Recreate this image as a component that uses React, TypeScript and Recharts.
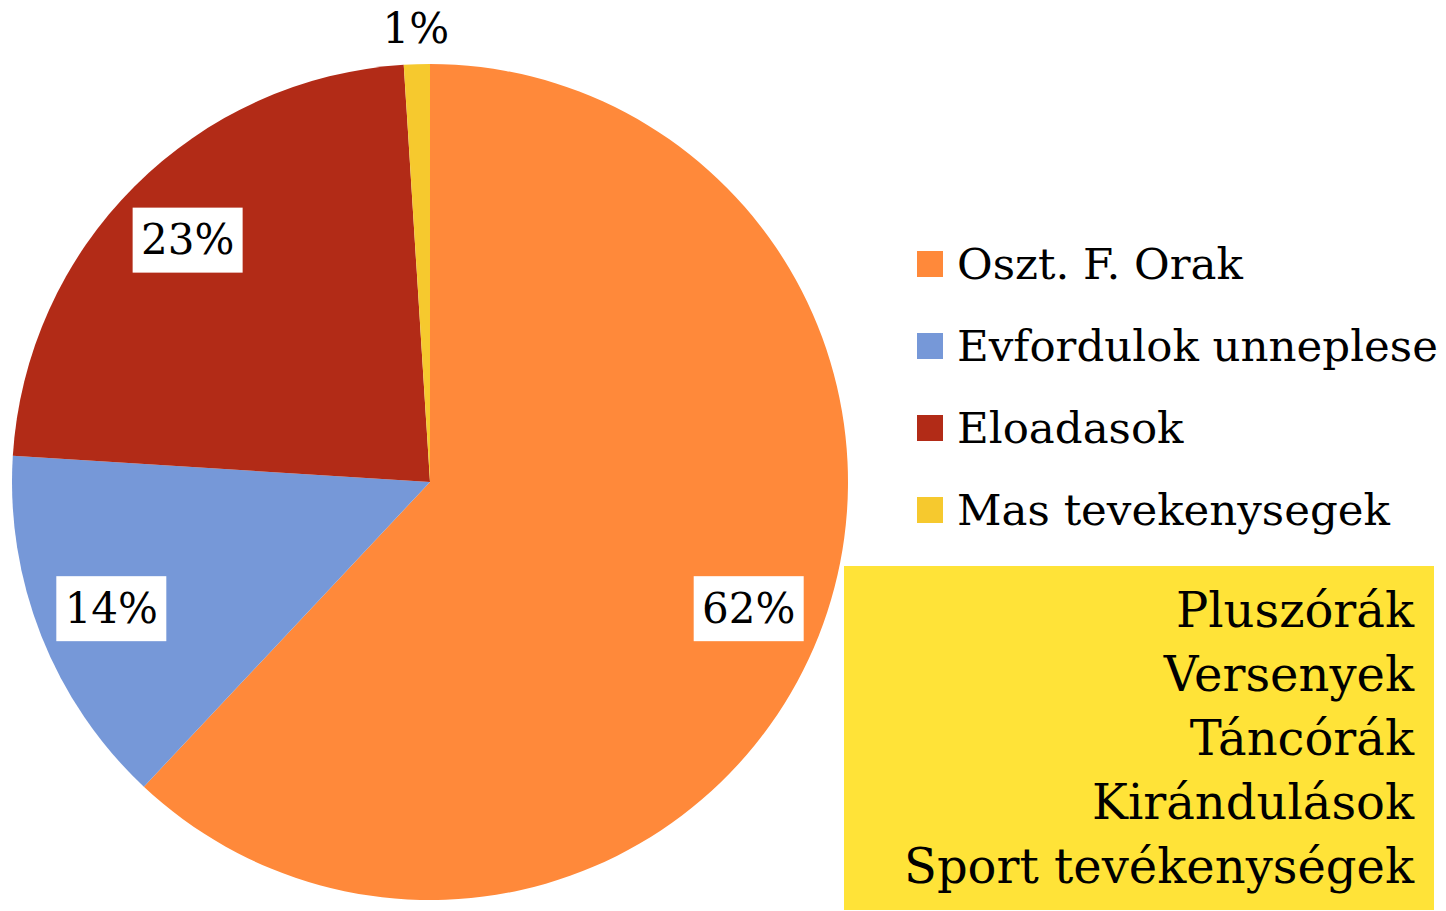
import { Pie, PieChart, Cell, Legend } from "recharts";

const categories = ["Oszt. F. Orak", "Evfordulok unneplese", "Eloadasok", "Mas tevekenysegek"];
const shares = [62, 14, 23, 1];
const colors = ["#FF893A", "#7698D8", "#B22B17", "#F6C92E"];
const boxLines = ["Pluszórák", "Versenyek", "Táncórák", "Kirándulások", "Sport tevékenységek"];

const data = categories.map((name, i) => ({ name, value: shares[i] }));

const FONT = "'DejaVu Serif', serif";
const RAD = Math.PI / 180;

function renderLabel(props: any) {
  const { cx, cy, midAngle, outerRadius, value } = props;
  const small = value < 5;
  const r = small ? outerRadius + 36 : outerRadius * 0.82;
  const x = cx + r * Math.cos(-midAngle * RAD);
  const y = cy + r * Math.sin(-midAngle * RAD);
  const text = `${value}%`;
  return (
    <g>
      {!small && <rect x={x - 55} y={y - 32} width={110} height={65} fill="#fff" />}
      <text
        x={x}
        y={y}
        textAnchor="middle"
        dominantBaseline="central"
        fontFamily={FONT}
        fontSize={42}
        fill="#000"
      >
        {text}
      </text>
    </g>
  );
}

function LegendContent() {
  return (
    <div style={{ fontFamily: FONT }}>
      {categories.map((name, i) => (
        <div key={name} style={{ display: "flex", alignItems: "center", height: 82 }}>
          <span style={{ width: 26, height: 26, background: colors[i], marginRight: 14, flex: "none" }} />
          <span style={{ fontSize: 43.5, whiteSpace: "nowrap", color: "#000" }}>{name}</span>
        </div>
      ))}
    </div>
  );
}

export default function App() {
  return (
    <div style={{ position: "absolute", left: 0, top: 0, width: 1446, height: 911, background: "#fff" }}>
      <PieChart width={1446} height={911} margin={{ top: 0, right: 0, bottom: 0, left: 0 }}>
        <Pie
          data={data}
          dataKey="value"
          nameKey="name"
          cx={430}
          cy={482}
          outerRadius={418}
          startAngle={90}
          endAngle={-270}
          stroke="none"
          label={renderLabel}
          labelLine={false}
          isAnimationActive={false}
        >
          {data.map((d, i) => (
            <Cell key={d.name} fill={colors[i]} />
          ))}
        </Pie>
        <Legend
          layout="vertical"
          align="right"
          verticalAlign="top"
          content={<LegendContent />}
          wrapperStyle={{ left: 917, top: 223, width: 529 }}
        />
      </PieChart>
      <div
        style={{
          position: "absolute",
          left: 844,
          top: 566,
          width: 590,
          height: 344,
          background: "#FFE338",
          boxSizing: "border-box",
          paddingRight: 20,
          paddingTop: 12,
          textAlign: "right",
          fontFamily: FONT,
          fontSize: 48,
          lineHeight: "64px",
          color: "#000",
        }}
      >
        {boxLines.map((line) => (
          <div key={line} style={{ whiteSpace: "nowrap" }}>
            {line}
          </div>
        ))}
      </div>
    </div>
  );
}
